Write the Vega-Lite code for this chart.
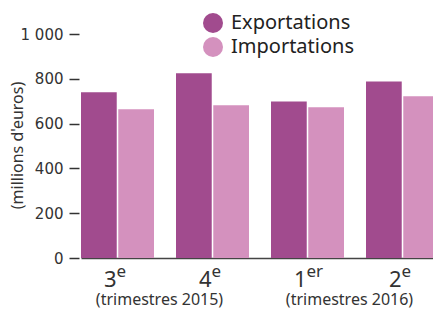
{
  "$schema": "https://vega.github.io/schema/vega-lite/v6.json",
  "width": 352,
  "height": 224,
  "autosize": {"type": "none"},
  "padding": {"left": 81, "top": 34, "right": 0, "bottom": 51},
  "config": {
    "view": {"stroke": null},
    "font": "Noto Sans",
    "text": {"color": "#333"}
  },
  "datasets": {
    "commerce": [
      {"trimestre": "T3 2015", "flux": "Exportations", "valeur": 740},
      {"trimestre": "T3 2015", "flux": "Importations", "valeur": 664},
      {"trimestre": "T4 2015", "flux": "Exportations", "valeur": 825},
      {"trimestre": "T4 2015", "flux": "Importations", "valeur": 682},
      {"trimestre": "T1 2016", "flux": "Exportations", "valeur": 699},
      {"trimestre": "T1 2016", "flux": "Importations", "valeur": 673},
      {"trimestre": "T2 2016", "flux": "Exportations", "valeur": 788},
      {"trimestre": "T2 2016", "flux": "Importations", "valeur": 722}
    ],
    "etiquettes": [
      {"trimestre": "T3 2015", "num": "3", "sup": "e"},
      {"trimestre": "T4 2015", "num": "4", "sup": "e"},
      {"trimestre": "T1 2016", "num": "1", "sup": "er"},
      {"trimestre": "T2 2016", "num": "2", "sup": "e"}
    ],
    "annees": [
      {"trimestre": "T3 2015", "texte": "(trimestres 2015)"},
      {"trimestre": "T1 2016", "texte": "(trimestres 2016)"}
    ]
  },
  "encoding": {
    "x": {
      "field": "trimestre",
      "type": "nominal",
      "scale": {
        "domain": ["T3 2015", "T4 2015", "T1 2016", "T2 2016"],
        "range": [0, 358],
        "paddingInner": 0.2316,
        "paddingOuter": 0
      },
      "axis": {
        "labels": false,
        "ticks": false,
        "title": null,
        "domainColor": "#444",
        "domainWidth": 1.5
      }
    }
  },
  "layer": [
    {
      "data": {"name": "commerce"},
      "mark": {"type": "bar"},
      "encoding": {
        "xOffset": {
          "field": "flux",
          "type": "nominal",
          "scale": {"domain": ["Exportations", "Importations"], "paddingInner": 0.041, "paddingOuter": 0}
        },
        "y": {
          "field": "valeur",
          "type": "quantitative",
          "scale": {"domain": [0, 1000], "nice": false},
          "axis": {
            "values": [0, 200, 400, 600, 800, 1000],
            "labelExpr": "datum.value == 1000 ? '1 000' : datum.label",
            "domain": false,
            "grid": false,
            "tickSize": 10,
            "tickColor": "#333",
            "tickWidth": 1.5,
            "offset": 2,
            "labelPadding": 6,
            "labelFont": "DejaVu Sans",
            "labelFontSize": 15,
            "labelColor": "#333",
            "title": "(millions d'euros)",
            "titleFont": "Noto Sans",
            "titleFontSize": 16,
            "titleFontWeight": "normal",
            "titleColor": "#333",
            "titleAngle": -90,
            "titleBaseline": "middle",
            "titleAlign": "center",
            "titleX": -62,
            "titleY": 111
          }
        },
        "color": {
          "field": "flux",
          "type": "nominal",
          "scale": {"domain": ["Exportations", "Importations"], "range": ["#a14b8e", "#d491be"]},
          "legend": {
            "title": null,
            "orient": "none",
            "legendX": 122,
            "legendY": -21,
            "symbolType": "circle",
            "symbolSize": 400,
            "symbolStrokeWidth": 0,
            "labelFontSize": 20,
            "labelFont": "Noto Sans",
            "labelColor": "#222",
            "labelOffset": 8,
            "rowPadding": 4,
            "padding": 0
          }
        }
      }
    },
    {
      "data": {"name": "etiquettes"},
      "mark": {"type": "text", "align": "right", "baseline": "alphabetic", "fontSize": 22, "dx": -1, "dy": 29},
      "encoding": {
        "y": {"datum": 0, "type": "quantitative"},
        "text": {"field": "num"}
      }
    },
    {
      "data": {"name": "etiquettes"},
      "mark": {"type": "text", "align": "left", "baseline": "alphabetic", "fontSize": 17, "dx": -1, "dy": 19},
      "encoding": {
        "y": {"datum": 0, "type": "quantitative"},
        "text": {"field": "sup"}
      }
    },
    {
      "data": {"name": "annees"},
      "mark": {"type": "text", "align": "center", "baseline": "alphabetic", "fontSize": 16, "dx": 42, "dy": 47},
      "encoding": {
        "y": {"datum": 0, "type": "quantitative"},
        "text": {"field": "texte"}
      }
    }
  ]
}
